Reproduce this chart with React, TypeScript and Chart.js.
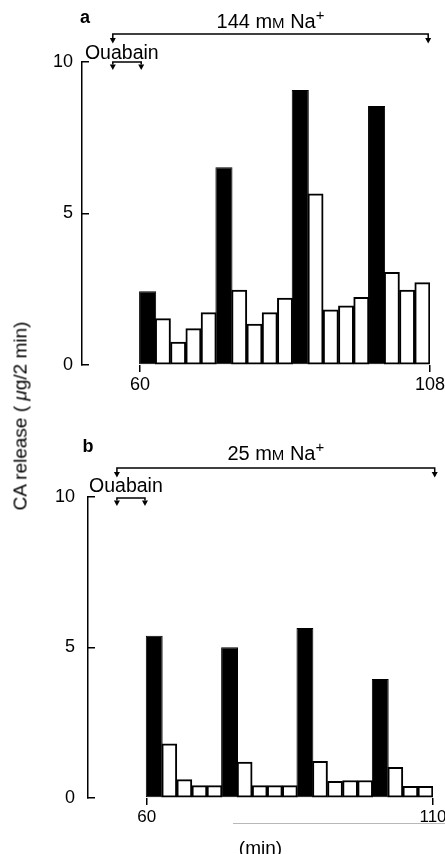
import React, { useEffect, useRef } from "react";
import { Chart, registerables } from "chart.js";

Chart.register(...registerables);

const FONT = "'Liberation Sans', Arial, Helvetica, sans-serif";

// ---- Panel a : 144 mM Na+ ----
const valuesA = [2.43, 1.53, 0.76, 1.2, 1.73, 6.53, 2.47, 1.35, 1.73, 2.21, 9.08, 5.65, 1.82, 1.95, 2.23, 8.55, 3.06, 2.47, 2.72];
const filledA = [0, 5, 10, 15];
const xTicksA = [60, 108];
const naRangeA = [55.5, 107.7];
const ouabainRangeA = [55.5, 60.2];

// ---- Panel b : 25 mM Na+ ----
const valuesB = [5.39, 1.8, 0.61, 0.41, 0.41, 5.01, 1.19, 0.41, 0.41, 0.41, 5.65, 1.22, 0.55, 0.58, 0.58, 3.95, 1.02, 0.39, 0.39];
const filledB = [0, 5, 10, 15];
const xTicksB = [60, 110];
const naRangeB = [54.8, 110.3];
const ouabainRangeB = [54.8, 59.7];

const yTickValues = [0, 5, 10];
const yMax = 10;

type Layout = {
  top: number;
  height: number;
  axisLeft: number;
  chartTop: number;
  chartRight: number;
  chartBottom: number;
  xMin: number;
  naY: number;
  naTextY: number;
  ouaY: number;
  ouaTextY: number;
  letterX: number;
  letterY: number;
  yLabelPad: number;
  xTickSize: number;
};

const layoutA: Layout = {
  top: 0, height: 400, axisLeft: 82, chartTop: 62, chartRight: 430, chartBottom: 365, xMin: 50.4,
  naY: 34, naTextY: 21, ouaY: 62, ouaTextY: 52, letterX: 85, letterY: 17, yLabelPad: 16, xTickSize: 18,
};
const layoutB: Layout = {
  top: 400, height: 454, axisLeft: 88, chartTop: 97, chartRight: 433, chartBottom: 398, xMin: 49.75,
  naY: 68, naTextY: 53, ouaY: 98, ouaTextY: 85, letterX: 88, letterY: 46, yLabelPad: 20, xTickSize: 17,
};

function binCenters(range: number[], n: number) {
  const w = (range[1] - range[0]) / n;
  return Array.from({ length: n }, (_, i) => range[0] + w * (i + 0.5));
}

type Seg = { t: string; size: number; dy?: number; bold?: boolean };

function drawRich(ctx: CanvasRenderingContext2D, segs: Seg[], cx: number, cy: number) {
  let total = 0;
  const widths = segs.map((s) => {
    ctx.font = `${s.bold ? "bold " : ""}${s.size}px ${FONT}`;
    const w = ctx.measureText(s.t).width;
    total += w;
    return w;
  });
  let x = cx - total / 2;
  const base = cy + 0.36 * segs[0].size;
  ctx.textAlign = "left";
  ctx.textBaseline = "alphabetic";
  segs.forEach((s, i) => {
    ctx.font = `${s.bold ? "bold " : ""}${s.size}px ${FONT}`;
    ctx.fillText(s.t, x, base + (s.dy || 0));
    x += widths[i];
  });
}

function arrowHead(ctx: CanvasRenderingContext2D, x: number, y: number) {
  ctx.beginPath();
  ctx.moveTo(x - 3, y);
  ctx.lineTo(x + 3, y);
  ctx.lineTo(x, y + 5.5);
  ctx.closePath();
  ctx.fill();
}

function bracket(ctx: CanvasRenderingContext2D, x1: number, x2: number, y: number, drop: number) {
  ctx.beginPath();
  ctx.moveTo(x1, y + drop);
  ctx.lineTo(x1, y);
  ctx.lineTo(x2, y);
  ctx.lineTo(x2, y + drop);
  ctx.stroke();
  arrowHead(ctx, x1, y + drop);
  arrowHead(ctx, x2, y + drop);
}

type PanelProps = {
  layout: Layout;
  values: number[];
  filled: number[];
  xTicks: number[];
  naRange: number[];
  ouRange: number[];
  letter: string;
  naConc: string;
  xTitle?: string;
};

function Panel({ layout, values, filled, xTicks, naRange, ouRange, letter, naConc, xTitle }: PanelProps) {
  const ref = useRef<HTMLCanvasElement>(null);

  useEffect(() => {
    const centers = binCenters(xTicks, values.length);
    const filledData: { x: number; y: number }[] = [];
    const openData: { x: number; y: number }[] = [];
    values.forEach((v, i) => {
      (filled.includes(i) ? filledData : openData).push({ x: centers[i], y: v });
    });

    const annot = {
      id: "annot" + letter,
      afterDraw(chart: any) {
        const ctx: CanvasRenderingContext2D = chart.ctx;
        const xs = chart.scales.x;
        ctx.save();
        ctx.strokeStyle = "#000";
        ctx.fillStyle = "#000";
        ctx.lineWidth = 1.5;
        const n1 = xs.getPixelForValue(naRange[0]);
        const n2 = xs.getPixelForValue(naRange[1]);
        bracket(ctx, n1, n2, layout.naY, 4);
        const o1 = xs.getPixelForValue(ouRange[0]);
        const o2 = xs.getPixelForValue(ouRange[1]);
        bracket(ctx, o1, o2, layout.ouaY, 2.5);
        drawRich(
          ctx,
          [
            { t: naConc + " m", size: 20 },
            { t: "M", size: 15 },
            { t: " Na", size: 20 },
            { t: "+", size: 15, dy: -8 },
          ],
          (n1 + n2) / 2,
          layout.naTextY
        );
        drawRich(ctx, [{ t: "Ouabain", size: 19.5 }], o1 + 9, layout.ouaTextY);
        drawRich(ctx, [{ t: letter, size: 18, bold: true }], layout.letterX, layout.letterY);
        ctx.restore();
      },
    };

    const chart = new Chart(ref.current as HTMLCanvasElement, {
      type: "bar",
      data: {
        datasets: [
          {
            label: "filled",
            data: filledData,
            backgroundColor: "#000",
            borderColor: "#000",
            borderWidth: 1,
            borderSkipped: false,
            barPercentage: 1.12,
            categoryPercentage: 1,
            grouped: false,
          } as any,
          {
            label: "open",
            data: openData,
            backgroundColor: "#fff",
            borderColor: "#000",
            borderWidth: 2,
            borderSkipped: false,
            barPercentage: 1,
            categoryPercentage: 1,
            grouped: false,
          } as any,
        ],
      },
      options: {
        responsive: false,
        animation: false,
        layout: { padding: { top: layout.chartTop, right: 445 - layout.chartRight, left: 0, bottom: 0 } },
        plugins: { legend: { display: false }, tooltip: { enabled: false }, title: { display: false } },
        scales: {
          x: {
            type: "linear",
            min: layout.xMin,
            max: xTicks[1],
            offset: false,
            afterBuildTicks: (s: any) => {
              s.ticks = xTicks.map((v) => ({ value: v }));
            },
            afterFit: (s: any) => {
              s.height = layout.height - layout.chartBottom;
              s.paddingLeft = 0;
              s.paddingRight = 0;
            },
            border: { display: false },
            grid: { offset: false, drawOnChartArea: false, drawTicks: true, tickLength: 7, color: "#000", lineWidth: 1.5 },
            ticks: { color: "#000", font: { family: FONT, size: layout.xTickSize }, padding: 2, maxRotation: 0, autoSkip: false },
            title: {
              display: !!xTitle,
              text: xTitle || "",
              color: "#000",
              font: { family: FONT, size: 19, lineHeight: 1 },
              padding: { top: 0, bottom: -4 },
            },
          } as any,
          y: {
            min: 0,
            max: yMax,
            afterBuildTicks: (s: any) => {
              s.ticks = yTickValues.map((v) => ({ value: v }));
            },
            afterFit: (s: any) => {
              s.width = layout.axisLeft;
              s.paddingTop = 0;
              s.paddingBottom = 0;
            },
            border: { display: true, color: "#000", width: 1.5 },
            grid: { drawOnChartArea: false, drawTicks: true, tickLength: -7, color: "#000", lineWidth: 1.5 },
            ticks: { color: "#000", font: { family: FONT, size: 18 }, padding: layout.yLabelPad },
          } as any,
        },
      },
      plugins: [annot],
    } as any);
    return () => chart.destroy();
  }, []);

  return (
    <canvas
      ref={ref}
      width={445}
      height={layout.height}
      style={{ position: "absolute", left: 0, top: layout.top, display: "block" }}
    />
  );
}

export default function App() {
  return (
    <div
      style={{
        position: "absolute",
        left: 0,
        top: 0,
        width: 445,
        height: 854,
        overflow: "hidden",
        background: "#fff",
        fontFamily: FONT,
      }}
    >
      <Panel
        layout={layoutA}
        values={valuesA}
        filled={filledA}
        xTicks={xTicksA}
        naRange={naRangeA}
        ouRange={ouabainRangeA}
        letter="a"
        naConc="144"
      />
      <Panel
        layout={layoutB}
        values={valuesB}
        filled={filledB}
        xTicks={xTicksB}
        naRange={naRangeB}
        ouRange={ouabainRangeB}
        letter="b"
        naConc="25"
        xTitle="(min)"
      />
      <div
        style={{
          position: "absolute",
          left: 20,
          top: 416,
          transform: "translate(-50%, -50%) rotate(-90deg)",
          whiteSpace: "nowrap",
          fontSize: 19,
          color: "#000",
          lineHeight: 1,
        }}
      >
        CA release ( <i>μ</i>g/2 min)
      </div>
      <div
        style={{
          position: "absolute",
          left: 233,
          top: 823,
          width: 212,
          height: 1,
          background: "#b8b8b8",
        }}
      />
    </div>
  );
}
